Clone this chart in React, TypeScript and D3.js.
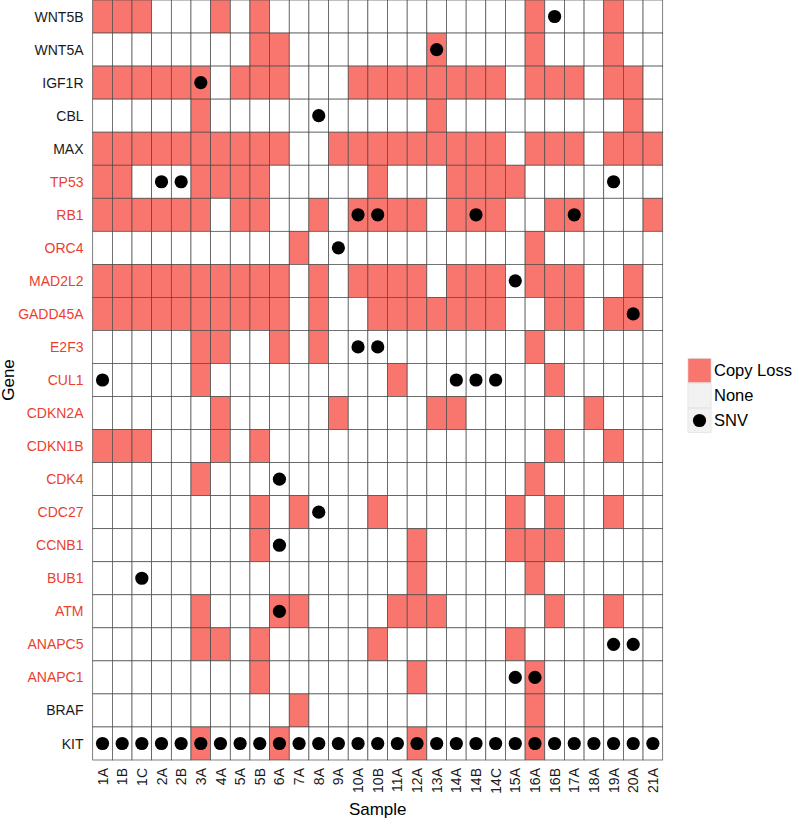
import React from "react";
import * as d3 from "d3";

const samples = ["1A","1B","1C","2A","2B","3A","4A","5A","5B","6A","7A","8A","9A","10A","10B","11A","12A","13A","14A","14B","14C","15A","16A","16B","17A","18A","19A","20A","21A"];

const genes = ["WNT5B","WNT5A","IGF1R","CBL","MAX","TP53","RB1","ORC4","MAD2L2","GADD45A","E2F3","CUL1","CDKN2A","CDKN1B","CDK4","CDC27","CCNB1","BUB1","ATM","ANAPC5","ANAPC1","BRAF","KIT"];

const redGenes = ["TP53","RB1","ORC4","MAD2L2","GADD45A","E2F3","CUL1","CDKN2A","CDKN1B","CDK4","CDC27","CCNB1","BUB1","ATM","ANAPC5","ANAPC1"];

// Copy loss samples per gene (same order as genes)
const copyLoss: string[][] = [
  ["1A","1B","1C","4A","5B","16A","19A"],
  ["5B","6A","13A","16A","19A"],
  ["1A","1B","1C","2A","2B","3A","5A","5B","6A","10A","10B","11A","12A","13A","14A","14B","14C","16A","16B","17A","19A","20A"],
  ["3A","13A","20A"],
  ["1A","1B","1C","2A","2B","3A","4A","5A","5B","6A","9A","10A","10B","11A","12A","13A","14A","14B","14C","16A","16B","17A","19A","20A","21A"],
  ["1A","1B","3A","4A","5A","5B","10B","14A","14B","14C","15A"],
  ["1A","1B","1C","2A","2B","3A","5A","5B","8A","10A","10B","11A","12A","14A","14B","14C","16B","17A","21A"],
  ["7A","16A"],
  ["1A","1B","1C","2A","2B","3A","4A","5A","5B","6A","8A","10A","10B","11A","12A","14A","14B","14C","16A","16B","17A","20A"],
  ["1A","1B","1C","2A","2B","3A","4A","5A","5B","6A","8A","10B","11A","12A","13A","14A","14B","14C","16B","17A","19A","20A"],
  ["3A","4A","6A","8A","16A"],
  ["3A","11A","16B"],
  ["4A","9A","13A","14A","18A"],
  ["1A","1B","1C","4A","5B","16B","19A"],
  ["3A","16A"],
  ["5B","7A","10B","15A","16B","19A"],
  ["5B","12A","15A","16A","16B"],
  ["12A","16A"],
  ["3A","6A","7A","11A","12A","13A","16B","19A"],
  ["3A","4A","5B","10B","15A"],
  ["5B","12A","16A"],
  ["7A","16A"],
  ["3A","6A","12A","16A"],
];

// SNV samples per gene
const snv: string[][] = [
  ["16B"],
  ["13A"],
  ["3A"],
  ["8A"],
  [],
  ["2A","2B","19A"],
  ["10A","10B","14B","17A"],
  ["9A"],
  ["15A"],
  ["20A"],
  ["10A","10B"],
  ["1A","14A","14B","14C"],
  [],
  [],
  ["6A"],
  ["8A"],
  ["6A"],
  ["1C"],
  ["6A"],
  ["19A","20A"],
  ["15A","16A"],
  [],
  samples,
];

const legendItems = ["Copy Loss", "None", "SNV"];

const W = 798;
const H = 821;
const FONT = "'Liberation Sans', Arial, Helvetica, sans-serif";
const SALMON = "#F8766D";
const RED = "#EA3F30";

export default function App() {
  const x = d3.scaleBand<string>().domain(samples).range([92.7, 662.7]).padding(0);
  const y = d3.scaleBand<string>().domain(genes).range([0, 760]).padding(0);
  const bw = x.bandwidth();
  const bh = y.bandwidth();

  const cells: { g: string; s: string; loss: boolean; dot: boolean }[] = [];
  genes.forEach((g, gi) => {
    samples.forEach((s) => {
      cells.push({ g, s, loss: copyLoss[gi].includes(s), dot: snv[gi].includes(s) });
    });
  });

  const keyX = 687.5;
  const keyY0 = 358;
  const keyW = 24;
  const keyH = 25;

  return (
    <svg width={W} height={H} style={{ position: "absolute", left: 0, top: 0, background: "#fff" }} fontFamily={FONT}>
      <rect x={0} y={0} width={W} height={H} fill="#fff" />
      <g>
        {cells.map((c, i) => (
          <rect
            key={"c" + i}
            x={x(c.s)}
            y={y(c.g)}
            width={bw}
            height={bh}
            fill={c.loss ? SALMON : "#ffffff"}
            stroke="#4a4a4a"
            strokeWidth={0.7}
          />
        ))}
        {cells.filter((c) => c.dot).map((c, i) => (
          <circle key={"d" + i} cx={(x(c.s) as number) + bw / 2} cy={(y(c.g) as number) + bh / 2} r={6.6} fill="#000" />
        ))}
      </g>
      <g>
        {genes.map((g) => (
          <text
            key={g}
            x={83.5}
            y={(y(g) as number) + bh / 2}
            dy="0.36em"
            textAnchor="end"
            fontSize={14}
            fill={redGenes.includes(g) ? RED : "#1a1a1a"}
          >
            {g}
          </text>
        ))}
      </g>
      <g>
        {samples.map((s) => (
          <text
            key={s}
            transform={`translate(${(x(s) as number) + bw / 2},768) rotate(-90)`}
            dy="0.36em"
            textAnchor="end"
            fontSize={14}
            fill="#1a1a1a"
          >
            {s}
          </text>
        ))}
      </g>
      <text x={377.7} y={815} textAnchor="middle" fontSize={17} fill="#000">Sample</text>
      <text transform="translate(14,380) rotate(-90)" textAnchor="middle" fontSize={17} fill="#000">Gene</text>
      <g>
        {legendItems.map((item, i) => {
          const ky = keyY0 + i * keyH;
          return (
            <g key={item}>
              <rect x={keyX} y={ky} width={keyW} height={keyH} fill="#f2f2f2" />
              {i === 0 && <rect x={keyX + 0.5} y={ky + 0.5} width={keyW - 1} height={keyH - 1} fill={SALMON} stroke="#e0e0e0" strokeWidth={0.5} />}
              {i === 1 && <rect x={keyX + 0.5} y={ky + 0.5} width={keyW - 1} height={keyH - 1} fill="#f2f2f2" stroke="#dedede" strokeWidth={0.5} />}
              {i === 2 && (
                <>
                  <rect x={keyX + 0.5} y={ky + 0.5} width={keyW - 1} height={keyH - 1} fill="#f2f2f2" stroke="#dedede" strokeWidth={0.5} />
                  <circle cx={keyX + keyW / 2} cy={ky + keyH / 2} r={6.6} fill="#000" />
                </>
              )}
              <text x={714} y={ky + keyH / 2} dy="0.36em" fontSize={16.5} fill="#000">{item}</text>
            </g>
          );
        })}
      </g>
    </svg>
  );
}
